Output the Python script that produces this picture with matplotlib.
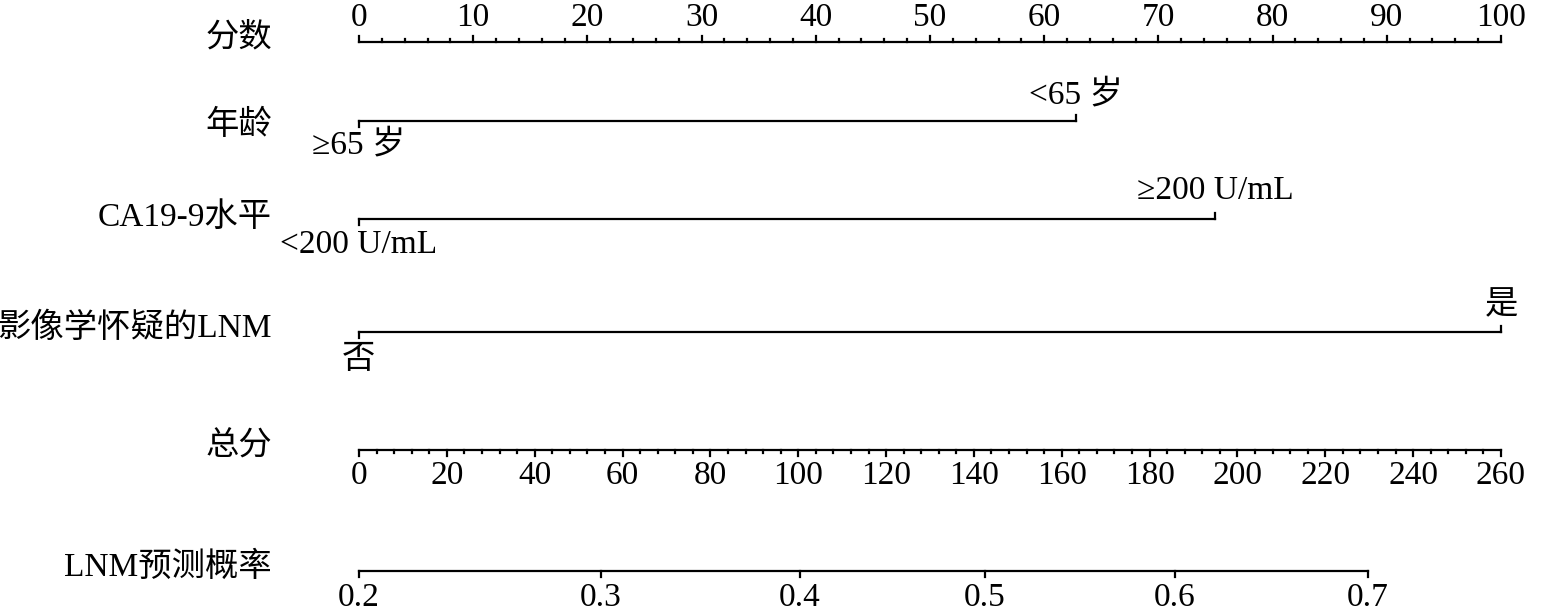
import numpy as np
import matplotlib.pyplot as plt

plt.rcParams['font.family'] = ['Liberation Serif', 'Noto Sans CJK SC']

# data
row_names = ['分数', '年龄', 'CA19-9水平', '影像学怀疑的LNM', '总分', 'LNM预测概率']
points_ticks = np.arange(0, 101, 10)
age_levels = ['≥65 岁', '<65 岁']
age_points = [0, 62.8]
ca199_levels = ['<200 U/mL', '≥200 U/mL']
ca199_points = [0, 75.0]
lnm_levels = ['否', '是']
lnm_points = [0, 100]
total_ticks = np.arange(0, 261, 20)
total_max = 260
prob_labels = ['0.2', '0.3', '0.4', '0.5', '0.6', '0.7']
prob_total_points = [0, 55.1, 100.4, 142.5, 185.8, 229.7]

fig = plt.figure(figsize=(15.42, 6.13), dpi=100)
ax = fig.add_axes([0, 0, 1, 1])
# x in "points" units, y in pixel rows
ax.set_xlim(-359 * 100 / 1142, 100 + 41 * 100 / 1142)
ax.set_ylim(613, 0)
ax.axis('off')

fs = 24
lw = 1.6
px = 100 / 1142  # one pixel in x units

row_y = [42, 121, 219, 332, 450, 571]
label_y = [38, 125, 218, 328, 447, 567]
for name, y in zip(row_names, label_y):
    ax.text(272 * px - 359 * px, y, name, ha='right', va='center', fontsize=fs)

# points scale
y = row_y[0]
ax.plot([0, 100], [y, y], color='black', lw=lw)
for v in np.arange(0, 101, 2):
    ln = 6 if v % 10 == 0 else 3
    ax.plot([v, v], [y, y - ln], color='black', lw=lw)
for v in points_ticks:
    ax.text(v, 18, str(v), ha='center', va='center', fontsize=fs)

# categorical rows
cats = [(age_levels, age_points, row_y[1], 95, 145),
        (ca199_levels, ca199_points, row_y[2], 191, 245),
        (lnm_levels, lnm_points, row_y[3], 306, 360)]
for levels, pts, y, y_hi, y_lo in cats:
    ax.plot([pts[0], pts[1]], [y, y], color='black', lw=lw)
    ax.plot([pts[0], pts[0]], [y, y + 6], color='black', lw=lw)
    ax.plot([pts[1], pts[1]], [y, y - 6], color='black', lw=lw)
    ax.text(pts[0], y_lo, levels[0], ha='center', va='center', fontsize=fs)
    ax.text(pts[1], y_hi, levels[1], ha='center', va='center', fontsize=fs)

# total points scale
y = row_y[4]
scale = 100 / total_max
ax.plot([0, 100], [y, y], color='black', lw=lw)
for v in np.arange(0, total_max + 1, 4):
    ln = 6 if v % 20 == 0 else 3
    ax.plot([v * scale, v * scale], [y, y + ln], color='black', lw=lw)
for v in total_ticks:
    ax.text(v * scale, 476, str(v), ha='center', va='center', fontsize=fs)

# probability scale
y = row_y[5]
ax.plot([prob_total_points[0] * scale, prob_total_points[-1] * scale], [y, y], color='black', lw=lw)
for lab, tp in zip(prob_labels, prob_total_points):
    ax.plot([tp * scale, tp * scale], [y, y + 6], color='black', lw=lw)
    ax.text(tp * scale, 598, lab, ha='center', va='center', fontsize=fs)

fig.savefig('out.png', dpi=100)
